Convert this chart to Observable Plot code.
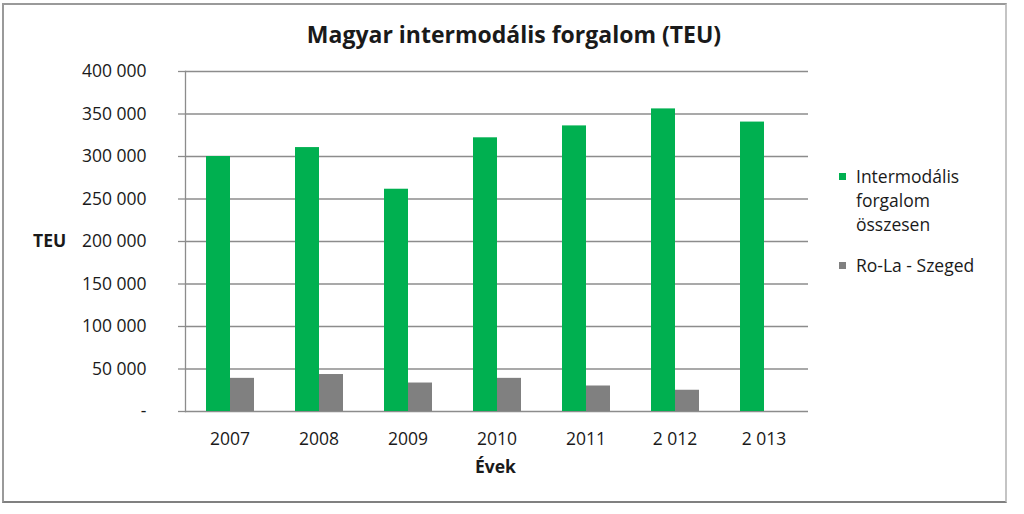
<!DOCTYPE html>
<html><head><meta charset="utf-8">
<script src="https://cdn.jsdelivr.net/npm/d3@7"></script>
<script src="https://cdn.jsdelivr.net/npm/@observablehq/plot@0.6"></script>
<style>
body{margin:0;background:#fff;font-family:"Open Sans", sans-serif;color:#1a1a1a}
#wrap{position:relative;width:1024px;height:514px;overflow:hidden;background:#fff}
#border{position:absolute;left:2px;top:3px;width:1005px;height:500px;border:2px solid #9a9a9a;border-right-color:#c4c4c4;border-bottom-color:#808080;box-sizing:border-box}
#title{position:absolute;left:0;width:1028px;top:19px;text-align:center;font-weight:bold;font-size:23px;line-height:30px}
#chart{position:absolute;left:0;top:0}
#ylab{position:absolute;left:33px;top:228px;font-weight:bold;font-size:17.5px;line-height:24px}
#xlab{position:absolute;left:0;width:991px;top:454px;text-align:center;font-weight:bold;font-size:17.5px;line-height:24px}
#legend{position:absolute;left:839px;top:164px;font-size:17.5px;line-height:24px}
.li{position:relative;padding-left:17px;margin-bottom:17px}
.sw{position:absolute;left:0;top:9px;width:7px;height:7px}
</style></head><body>
<div id="wrap">
 <div id="border"></div>
 <div id="title">Magyar intermodális forgalom (TEU)</div>
 <div id="chart"></div>
 <div id="ylab">TEU</div>
 <div id="xlab">Évek</div>
 <div id="legend"></div>
</div>
<script>
const years = ["2007","2008","2009","2010","2011","2012","2013"];
const yearLabels = ["2007","2008","2009","2010","2011","2 012","2 013"];
const seriesNames = ["Intermodális forgalom összesen","Ro-La - Szeged"];
const legendLines = [["Intermodális","forgalom","összesen"],["Ro-La - Szeged"]];
const intermodal = [300000,310500,261500,322000,336000,356000,340500];
const rola = [39000,43500,33500,39000,30000,25000,null];
const colors = ["#00B050","#808080"];
const yTicks = [0,50000,100000,150000,200000,250000,300000,350000,400000];

const data = years.flatMap((y,i)=>[
  {year:y, series:seriesNames[0], value:intermodal[i]},
  {year:y, series:seriesNames[1], value:rola[i]}
]).filter(d=>d.value!=null);

const fmt = d => d===0 ? "-" : d3.format(",")(d).replace(/,/g," ");

const chart = Plot.plot({
  width:1024, height:514,
  marginLeft:184, marginRight:215, marginTop:71, marginBottom:103,
  style:{fontFamily:'"Open Sans", sans-serif', fontSize:"17.5px", color:"#1a1a1a", background:"transparent"},
  fx:{domain:years, padding:0, label:null, axis:null},
  x:{domain:seriesNames, paddingInner:0, paddingOuter:0.786, axis:null},
  y:{domain:[0,400000], label:null, axis:null},
  color:{domain:seriesNames, range:colors},
  marks:[
    Plot.ruleY(yTicks, {stroke:"#8c8c8c", strokeWidth:1.3}),
    Plot.axisY({ticks:yTicks, tickFormat:fmt, tickSize:7, tickPadding:32, stroke:"#8c8c8c", strokeWidth:1.3, fill:"#1a1a1a", label:null, anchor:"left"}),
    Plot.axisFx({tickFormat:d=>yearLabels[years.indexOf(d)], tickSize:0, tickPadding:21, label:null, anchor:"bottom", fill:"#1a1a1a"}),
    Plot.barY(data, {fx:"year", x:"series", y:"value", fill:"series"}),
    Plot.frame({anchor:"left", stroke:"#8c8c8c", strokeWidth:1.3, facetAnchor:"left"})
  ]
});
document.getElementById("chart").appendChild(chart);

const lg = document.getElementById("legend");
seriesNames.forEach((s,i)=>{
  const it = document.createElement("div"); it.className="li";
  const sw = document.createElement("div"); sw.className="sw"; sw.style.background=colors[i];
  it.appendChild(sw);
  legendLines[i].forEach(t=>{const l=document.createElement("div"); l.textContent=t; it.appendChild(l);});
  lg.appendChild(it);
});
</script>
</body></html>
